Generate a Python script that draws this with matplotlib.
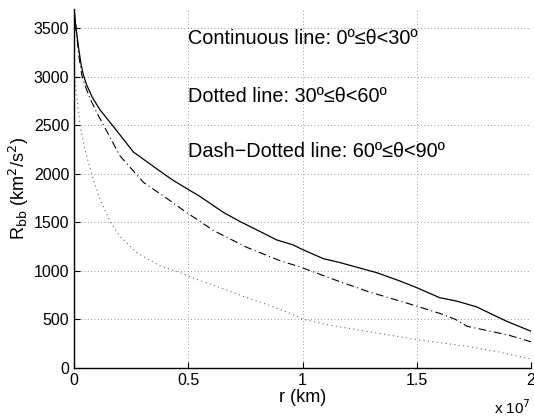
import matplotlib
matplotlib.use("Agg")
import matplotlib.pyplot as plt
from matplotlib.ticker import FuncFormatter

plt.rcParams['font.family'] = ['Liberation Sans', 'DejaVu Sans']

# r values are in units of 1e7 km
r_solid = [0.0, 0.009, 0.02, 0.03, 0.041, 0.055, 0.08, 0.114, 0.172, 0.26, 0.362, 0.43,
           0.493, 0.55, 0.6, 0.653, 0.726, 0.814, 0.887, 0.96, 0.99, 1.09, 1.163, 1.324,
           1.426, 1.5, 1.6, 1.674, 1.761, 1.893, 2.0]
rbb_solid = [3700, 3500, 3300, 3140, 3020, 2920, 2790, 2660, 2490, 2226, 2053, 1940,
             1850, 1770, 1690, 1605, 1510, 1407, 1320, 1268, 1232, 1128, 1087, 983,
             897, 828, 725, 690, 631, 482, 379]

r_dotted = [0.0, 0.01, 0.026, 0.05, 0.077, 0.11, 0.16, 0.2, 0.274, 0.376, 0.464, 0.537,
            0.65, 0.75, 0.85, 0.95, 1.0, 1.1, 1.28, 1.5, 1.72, 1.85, 2.0]
rbb_dotted = [3050, 2850, 2500, 2230, 2000, 1760, 1500, 1360, 1190, 1052, 983, 914,
              820, 730, 650, 560, 505, 450, 378, 293, 224, 170, 93]

r_dashdot = [0.0, 0.01, 0.022, 0.034, 0.05, 0.07, 0.1, 0.13, 0.2, 0.303, 0.42, 0.5, 0.537,
             0.61, 0.755, 0.9, 0.99, 1.135, 1.28, 1.426, 1.5, 1.615, 1.67, 1.72, 1.8,
             1.9, 2.0]
rbb_dashdot = [3700, 3480, 3200, 3020, 2900, 2780, 2630, 2500, 2190, 1915, 1725, 1590,
               1534, 1417, 1245, 1107, 1041, 914, 793, 690, 638, 552, 500, 430, 390,
               340, 270]

labels = ['Continuous line: 0\u00ba\u2264\u03b8<30\u00ba',
          'Dotted line: 30\u00ba\u2264\u03b8<60\u00ba',
          'Dash\u2212Dotted line: 60\u00ba\u2264\u03b8<90\u00ba']
label_y = [3400, 2800, 2230]

scale = 1e7

fig = plt.figure(figsize=(5.34, 4.19), dpi=100)
ax = fig.add_axes([0.1386, 0.1217, 0.8558, 0.8568])

ax.plot([v * scale for v in r_solid], rbb_solid, color='black', lw=0.9, ls='-')
ax.plot([v * scale for v in r_dotted], rbb_dotted, color='0.4', lw=0.8, ls=(0, (1, 3)))
ax.plot([v * scale for v in r_dashdot], rbb_dashdot, color='black', lw=0.8,
        ls=(0, (7, 3, 1, 3)))

for txt, yv in zip(labels, label_y):
    ax.text(0.5 * scale, yv, txt, fontsize=14.3, va='center', ha='left')

ax.set_xlim(0, 2 * scale)
ax.set_ylim(0, 3700)
ax.set_xticks([0, 0.5e7, 1e7, 1.5e7, 2e7])
ax.set_yticks(range(0, 3501, 500))
ax.xaxis.set_major_formatter(FuncFormatter(lambda v, p: f'{v / scale:g}'))
ax.tick_params(direction='in', labelsize=11.5, length=4, width=0.8)
ax.grid(True, color='0.45', ls=(0, (1, 3)), lw=0.6)

for s in ['top', 'right']:
    ax.spines[s].set_visible(False)
for s in ['left', 'bottom']:
    ax.spines[s].set_linewidth(1.0)

ax.set_xlabel('r (km)', fontsize=13, labelpad=1)
ax.set_ylabel('R$_{\\rm bb}$ (km$^2$/s$^2$)', fontsize=13, labelpad=2)
fig.text(0.995, 0.005, 'x 10$^7$', fontsize=11, ha='right', va='bottom')

fig.savefig('out.png', dpi=100)
